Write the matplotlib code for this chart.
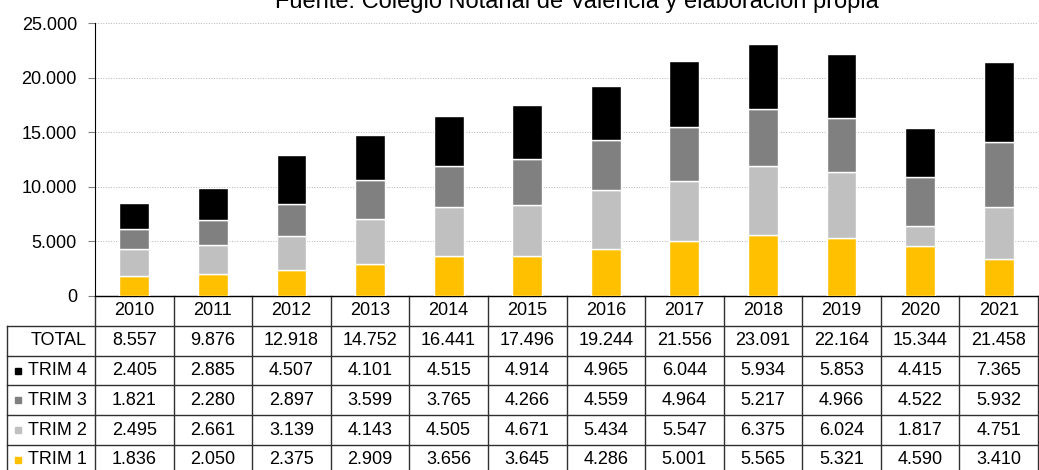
import matplotlib.pyplot as plt
from matplotlib.ticker import FuncFormatter
import numpy as np

plt.rcParams['font.family'] = ['Liberation Sans', 'DejaVu Sans']

# datos
years = ['2010', '2011', '2012', '2013', '2014', '2015', '2016', '2017', '2018', '2019', '2020', '2021']
trim1 = [1836, 2050, 2375, 2909, 3656, 3645, 4286, 5001, 5565, 5321, 4590, 3410]
trim2 = [2495, 2661, 3139, 4143, 4505, 4671, 5434, 5547, 6375, 6024, 1817, 4751]
trim3 = [1821, 2280, 2897, 3599, 3765, 4266, 4559, 4964, 5217, 4966, 4522, 5932]
trim4 = [2405, 2885, 4507, 4101, 4515, 4914, 4965, 6044, 5934, 5853, 4415, 7365]
total = [8557, 9876, 12918, 14752, 16441, 17496, 19244, 21556, 23091, 22164, 15344, 21458]
colors = {'TRIM 1': '#FFC000', 'TRIM 2': '#C0C0C0', 'TRIM 3': '#808080', 'TRIM 4': '#000000'}
title = 'Fuente: Colegio Notarial de Valencia y elaboración propia'

def fmt(v):
    return '{:,.0f}'.format(v).replace(',', '.')

W, H = 1039, 470
fig = plt.figure(figsize=(W / 100, H / 100), dpi=100)
# ejes en pixeles
L, R, T, B = 95, 1038, 23, 296
ax = fig.add_axes([L / W, 1 - B / H, (R - L) / W, (B - T) / H])

x = np.arange(len(years))
bottom = np.zeros(len(years))
for name, vals in [('TRIM 1', trim1), ('TRIM 2', trim2), ('TRIM 3', trim3), ('TRIM 4', trim4)]:
    ax.bar(x, vals, 0.38, bottom=bottom, color=colors[name], edgecolor='white', linewidth=1.0, zorder=3)
    bottom += np.array(vals)

ax.set_xlim(-0.5, len(years) - 0.5)
ax.set_ylim(0, 25000)
ax.set_yticks(np.arange(0, 25001, 5000))
ax.yaxis.set_major_formatter(FuncFormatter(lambda v, p: fmt(v)))
ax.tick_params(axis='y', labelsize=13, length=5, pad=8, color='#808080')
ax.set_xticks([])
ax.grid(axis='y', color='#b4b4b4', linestyle=':', linewidth=0.7, zorder=0)
for s in ['top', 'right']:
    ax.spines[s].set_visible(False)
ax.spines['left'].set_color('black')
ax.spines['bottom'].set_color('black')

fig.text(577 / W, 1 - 8 / H, title, ha='center', va='baseline', fontsize=17)

# tabla de datos
def ax_x(px):
    return (px - L) / (R - L)

def ax_y(py):
    return (B - py) / (B - T)

rh = 29.8
rows_py = [B + i * rh for i in range(7)]
lc = '#303030'
tr = ax.transAxes
kw = dict(transform=tr, clip_on=False, color=lc, linewidth=1)

# lineas horizontales
ax.plot([ax_x(L), ax_x(R)], [ax_y(rows_py[0])] * 2, **kw)
for py in rows_py[1:]:
    ax.plot([ax_x(7), ax_x(R)], [ax_y(py)] * 2, **kw)
# lineas verticales
ax.plot([ax_x(7), ax_x(7)], [ax_y(rows_py[1]), ax_y(rows_py[-1])], **kw)
for i in range(len(years) + 1):
    xx = i / len(years)
    ax.plot([xx, xx], [ax_y(rows_py[0]), ax_y(rows_py[-1])], **kw)

fs = 13
for i, yr in enumerate(years):
    ax.text((i + 0.5) / len(years), ax_y(rows_py[0] + rh / 2), yr, transform=tr,
            ha='center', va='center', fontsize=fs)

table_rows = [('TOTAL', total), ('TRIM 4', trim4), ('TRIM 3', trim3), ('TRIM 2', trim2), ('TRIM 1', trim1)]
for r, (name, vals) in enumerate(table_rows):
    yc = ax_y(rows_py[r + 1] + rh / 2)
    ax.text(ax_x(87), yc, name, transform=tr, ha='right', va='center', fontsize=fs)
    if name in colors:
        ax.plot([ax_x(18)], [yc], marker='s', markersize=5, color=colors[name],
                transform=tr, clip_on=False, linestyle='none')
    for i, v in enumerate(vals):
        ax.text((i + 0.5) / len(years), yc, fmt(v), transform=tr,
                ha='center', va='center', fontsize=fs)

fig.savefig('out.png', dpi=100)
